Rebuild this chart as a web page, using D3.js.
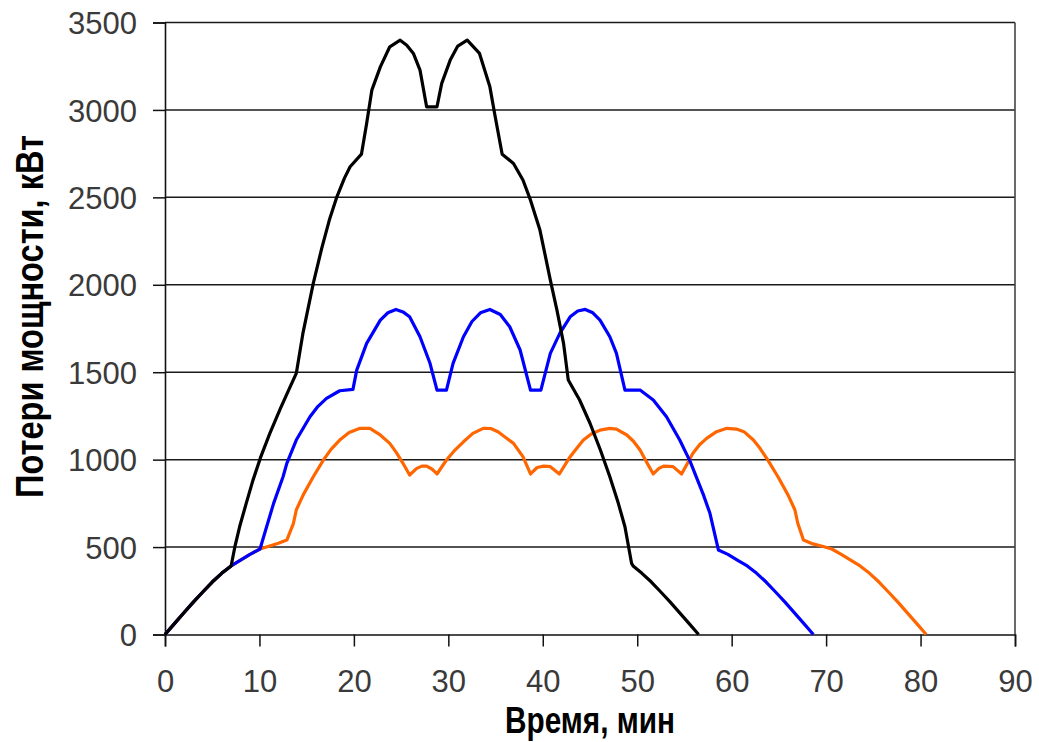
<!DOCTYPE html>
<html>
<head>
<meta charset="utf-8">
<script src="https://cdn.jsdelivr.net/npm/d3@7"></script>
<style>
  html, body { margin: 0; padding: 0; background: #fff; }
  svg { display: block; }
</style>
</head>
<body>
<svg id="chart" width="1039" height="742"></svg>
<script>
// Axis ticks
const xTicks = [0, 10, 20, 30, 40, 50, 60, 70, 80, 90];
const yTicks = [0, 500, 1000, 1500, 2000, 2500, 3000, 3500];

// Common start of all three load curves (min, kW)
const startTime = [0, 1, 2, 3, 4, 5, 6, 7];
const startLoss = [0, 62, 124, 185, 243, 300, 350, 392];

// Series 1 (black)
const blackTime = [7.4, 7.9, 8.6, 9.3, 10.1, 11.1, 12.2, 13.2, 13.9, 14.6, 15.7, 16.6, 17.4, 18.2, 19.0, 19.6, 20.8,
  21.35, 21.9, 22.8, 23.8, 24.9, 25.6, 26.3, 27.0, 27.7, 28.8, 29.3, 30.2, 31.0, 32.0, 33.3, 34.4, 34.9, 35.7,
  36.9, 37.9, 38.7, 39.7, 40.8, 41.5, 42.2, 42.7, 43.9, 45.0, 46.1, 47.1, 48.0, 48.7, 49.4, 49.6,
  50.5, 51.5, 52.5, 53.5, 54.5, 55.5, 56.5];
const blackLoss = [502, 616, 750, 880, 1010, 1150, 1290, 1410, 1493, 1722, 2008, 2210, 2370, 2503, 2610, 2675, 2747,
  2923, 3113, 3246, 3361, 3399, 3370, 3323, 3228, 3018, 3018, 3152, 3285, 3365, 3399, 3323, 3132, 2980, 2747,
  2694, 2599, 2484, 2313, 2027, 1855, 1665, 1455, 1341, 1208, 1055, 902, 750, 616, 407, 390,
  350, 300, 243, 185, 124, 62, 0];

// Series 2 (blue)
const blueTime = [8, 9, 10.06, 10.76, 11.5, 12.5, 12.9, 13.9, 15.35, 16.2, 17.1, 18.5, 19.9, 20.3, 21.35, 22.8, 23.6,
  24.45, 25.2, 25.9, 27.0, 28.06, 28.8, 29.8, 30.5, 31.6, 32.5, 33.4, 34.4, 35.5, 36.5, 37.6, 38.7, 39.8,
  40.8, 41.8, 42.9, 43.7, 44.5, 45.3, 46.06, 47.1, 47.8, 48.7, 50.3, 51.7, 53.1, 54.5, 55.6, 57.0, 57.7, 58.6,
  59.6, 60.6, 61.65, 62.65, 63.65, 64.65, 65.65, 66.65, 67.65, 68.65];
const blueLoss = [425, 458, 489, 616, 750, 902, 979, 1112, 1245, 1305, 1350, 1394, 1402, 1512, 1665, 1798, 1840,
  1859, 1845, 1817, 1703, 1551, 1398, 1398, 1551, 1703, 1790, 1840, 1859, 1830, 1760, 1627, 1398, 1398,
  1608, 1722, 1817, 1850, 1859, 1840, 1798, 1703, 1608, 1398, 1398, 1341, 1245, 1112, 990, 800, 693, 483,
  458, 425, 392, 350, 300, 243, 185, 124, 62, 0];

// Series 3 (orange)
const orangeTime = [8, 9, 10.06, 11, 12, 12.9, 13.6, 13.9, 14.65, 15.7, 16.8, 17.6, 18.5, 19.5, 20.65, 21.7, 22.7,
  23.8, 24.5, 25.2, 25.9, 26.65, 27.2, 27.7, 28.3, 28.8, 29.8, 30.7, 31.6, 32.6, 33.7, 34.5, 35.3, 36.1, 36.9,
  37.9, 38.7, 39.4, 40.1, 40.8, 41.75, 42.9, 43.6, 44.3, 45.1, 46.06, 47.1, 47.8, 48.9, 49.6, 50.3, 51.0, 51.7,
  52.3, 52.8, 53.8, 54.7, 55.9, 56.6, 57.35, 58.4, 59.5, 60.5, 61.3, 62.3, 63.0, 63.8, 64.9, 65.95, 66.7, 67.0,
  67.6, 68.6, 69.6, 70.6, 71.6, 72.6, 73.6, 74.6, 75.6, 76.6, 77.6, 78.6, 79.6, 80.6];
const orangeLoss = [425, 458, 489, 505, 522, 540, 636, 712, 800, 902, 1000, 1060, 1112, 1155, 1179, 1179, 1145,
  1093, 1040, 979, 912, 950, 963, 963, 945, 918, 998, 1055, 1102, 1150, 1179, 1178, 1158, 1125, 1093,
  1017, 918, 955, 963, 960, 918, 1017, 1065, 1112, 1145, 1169, 1179, 1175, 1141, 1105, 1055, 985, 918,
  950, 963, 960, 918, 1036, 1085, 1122, 1160, 1179, 1175, 1160, 1112, 1065, 1000, 902, 800, 712, 636,
  540, 518, 505, 489, 458, 425, 392, 350, 300, 243, 185, 124, 62, 0];

const seriesColors = ["#ff6600", "#0000ff", "#000000"];

const xTitle = "Время, мин";
const yTitle = "Потери мощности, кВт";

// ---- drawing ----
const svg = d3.select("#chart");
const plotLeft = 165, plotRight = 1015, plotTop = 22.5, plotBottom = 634.5;

const x = d3.scaleLinear().domain([0, 90]).range([plotLeft, plotRight]);
const y = d3.scaleLinear().domain([0, 3500]).range([plotBottom, plotTop]);

const font = "'Liberation Sans', Arial, sans-serif";

// horizontal gridlines
svg.append("g")
  .selectAll("line")
  .data(yTicks.filter(v => v > 0))
  .join("line")
  .attr("x1", plotLeft).attr("x2", plotRight)
  .attr("y1", d => y(d)).attr("y2", d => y(d))
  .attr("stroke", "#1a1a1a").attr("stroke-width", 1.5);

// right border of the plot area
svg.append("line")
  .attr("x1", plotRight).attr("x2", plotRight).attr("y1", plotTop).attr("y2", plotBottom)
  .attr("stroke", "#444").attr("stroke-width", 1.6);

// axes
const yAxis = d3.axisLeft(y).tickValues(yTicks).tickSize(12).tickPadding(16).tickFormat(d3.format("d"));
const xAxis = d3.axisBottom(x).tickValues(xTicks).tickSize(12).tickPadding(23).tickFormat(d3.format("d"));

const gy = svg.append("g").attr("transform", `translate(${plotLeft},0)`).call(yAxis);
const gx = svg.append("g").attr("transform", `translate(0,${plotBottom})`).call(xAxis);

[gx, gy].forEach(g => {
  g.select(".domain").attr("stroke", "#111").attr("stroke-width", 1.6);
  g.selectAll(".tick line").attr("stroke", "#111").attr("stroke-width", 1.5);
  g.selectAll(".tick text")
    .attr("font-family", font)
    .attr("font-size", 31)
    .attr("fill", "#3a3a3a");
});
gy.selectAll(".tick text").attr("dy", "0.36em");

// curves
const line = d3.line().x(d => x(d[0])).y(d => y(d[1]));
const zip = (ts, ps) => ts.map((t, i) => [t, ps[i]]);
const start = zip(startTime, startLoss);
const black = start.concat(zip(blackTime, blackLoss));
const blue = start.concat(zip(blueTime, blueLoss));
const orange = start.concat(zip(orangeTime, orangeLoss));

svg.append("g")
  .selectAll("path")
  .data([orange, blue, black])
  .join("path")
  .attr("d", line)
  .attr("fill", "none")
  .attr("stroke", (d, i) => seriesColors[i])
  .attr("stroke-width", 3.2)
  .attr("stroke-linejoin", "round");

// axis titles
svg.append("text")
  .attr("x", 590).attr("y", 733)
  .attr("text-anchor", "middle")
  .attr("font-family", font).attr("font-weight", "bold").attr("font-size", 37)
  .attr("textLength", 170).attr("lengthAdjust", "spacingAndGlyphs")
  .text(xTitle);

svg.append("text")
  .attr("transform", "translate(43,316.5) rotate(-90)")
  .attr("text-anchor", "middle")
  .attr("font-family", font).attr("font-weight", "bold").attr("font-size", 38)
  .attr("textLength", 363).attr("lengthAdjust", "spacingAndGlyphs")
  .text(yTitle);
</script>
</body>
</html>
